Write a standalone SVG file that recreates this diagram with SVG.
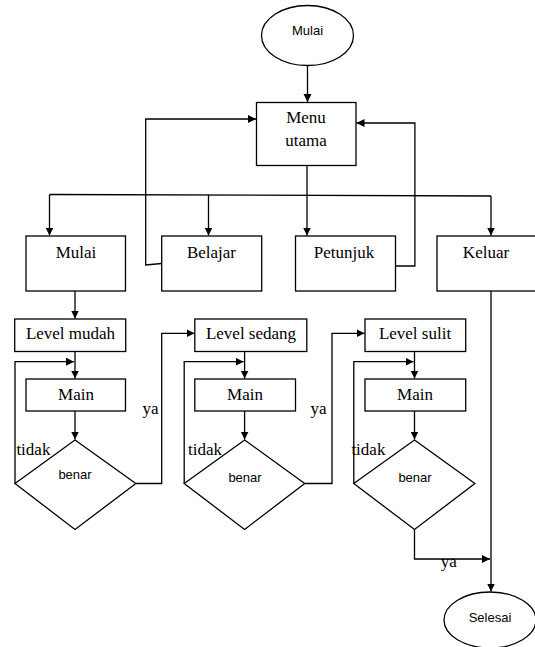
<svg xmlns="http://www.w3.org/2000/svg" width="535" height="647" viewBox="0 0 535 647">
<style>
.n{fill:#fff;stroke:#000;stroke-width:1.3}
.c{fill:none;stroke:#000;stroke-width:1.3}
.s{font-family:"Liberation Serif","Times New Roman",serif;font-size:17px;fill:#000}
.a{font-family:"Liberation Sans",Arial,sans-serif;font-size:13px;fill:#000}
</style>
<defs>
<marker id="ar" markerUnits="userSpaceOnUse" markerWidth="10" markerHeight="10" refX="8" refY="4" orient="auto">
<path d="M0,0 L8,4 L0,8 Z" fill="#000"/>
</marker>
</defs>
<rect width="535" height="647" fill="#fff"/>
<g id="connectors">
<path class="c" d="M307.5,65.5 V102" marker-end="url(#ar)"/>
<path class="c" d="M307,165.5 V235.5" marker-end="url(#ar)"/>
<path class="c" d="M49.5,194.5 L491,196"/>
<path class="c" d="M49.5,194.5 V235.5" marker-end="url(#ar)"/>
<path class="c" d="M208.5,195 V235.5" marker-end="url(#ar)"/>
<path class="c" d="M491,196 V235.5" marker-end="url(#ar)"/>
<path class="c" d="M161.7,263.5 L145.7,265 V119 H256" marker-end="url(#ar)"/>
<path class="c" d="M395.4,266 H414.9 V123 H356.5" marker-end="url(#ar)"/>
<path class="c" d="M75,291 V318.5" marker-end="url(#ar)"/>
<path class="c" d="M75,351.5 V378.5" marker-end="url(#ar)"/>
<path class="c" d="M15,483.5 V361.7 H74" marker-end="url(#ar)"/>
<path class="c" d="M75,411 V439.5" marker-end="url(#ar)"/>
<path class="c" d="M135.8,483.5 H161.7 V333.3 H194.5" marker-end="url(#ar)"/>
<path class="c" d="M244.6,351.5 V378.5" marker-end="url(#ar)"/>
<path class="c" d="M184.2,483.5 V361.7 H243.6" marker-end="url(#ar)"/>
<path class="c" d="M244.6,411 V439.5" marker-end="url(#ar)"/>
<path class="c" d="M304.7,483.5 H332 V333.3 H364.5" marker-end="url(#ar)"/>
<path class="c" d="M414.5,351.5 V378.5" marker-end="url(#ar)"/>
<path class="c" d="M353.8,483.5 V361.7 H413.5" marker-end="url(#ar)"/>
<path class="c" d="M414.5,411 V439.5" marker-end="url(#ar)"/>
<path class="c" d="M414.5,529.5 V559 H490" marker-end="url(#ar)"/>
<path class="c" d="M491,291 V591.5" marker-end="url(#ar)"/>
</g>
<g id="labels">
<text class="s" x="16.4" y="455">tidak</text>
<text class="s" x="188" y="455">tidak</text>
<text class="s" x="351.4" y="455">tidak</text>
<text class="s" x="142.6" y="414">ya</text>
<text class="s" x="310.5" y="414">ya</text>
<text class="s" x="440.7" y="567">ya</text>
</g>
<g id="start"><ellipse class="n" cx="307.5" cy="35.5" rx="46" ry="30"/><text class="a" x="307.5" y="35" text-anchor="middle">Mulai</text></g>
<g id="menu"><rect class="n" x="256.5" y="102.5" width="99.5" height="63"/><text class="s" x="306" y="123" text-anchor="middle">Menu</text><text class="s" x="306" y="145.5" text-anchor="middle">utama</text></g>
<g id="mulai"><rect class="n" x="26" y="236" width="99.5" height="55"/><text class="s" x="76" y="258.3" text-anchor="middle">Mulai</text></g>
<g id="belajar"><rect class="n" x="161.7" y="236" width="100" height="55"/><text class="s" x="211.5" y="258.3" text-anchor="middle">Belajar</text></g>
<g id="petunjuk"><rect class="n" x="295.5" y="236" width="100" height="55"/><text class="s" x="344" y="258.3" text-anchor="middle">Petunjuk</text></g>
<g id="keluar"><rect class="n" x="437" y="236" width="110" height="55"/><text class="s" x="486" y="258.3" text-anchor="middle">Keluar</text></g>
<g id="level-mudah"><rect class="n" x="14.7" y="319" width="111" height="32.5"/><text class="s" x="70.5" y="339" text-anchor="middle">Level mudah</text></g>
<g id="main1"><rect class="n" x="26" y="379" width="99.5" height="32"/><text class="s" x="76" y="400" text-anchor="middle">Main</text></g>
<g id="benar1"><polygon class="n" points="75,440 135.8,483.5 75,529.5 15,483.5"/><text class="a" x="75" y="479" text-anchor="middle">benar</text></g>
<g id="level-sedang"><rect class="n" x="194.8" y="319" width="112" height="32.5"/><text class="s" x="251" y="339" text-anchor="middle">Level sedang</text></g>
<g id="main2"><rect class="n" x="194.8" y="379" width="100.7" height="32"/><text class="s" x="245" y="400" text-anchor="middle">Main</text></g>
<g id="benar2"><polygon class="n" points="244.6,440 304.7,483.5 244.6,529.5 184.2,483.5"/><text class="a" x="245" y="482" text-anchor="middle">benar</text></g>
<g id="level-sulit"><rect class="n" x="365" y="319" width="100.7" height="32.5"/><text class="s" x="415" y="339" text-anchor="middle">Level sulit</text></g>
<g id="main3"><rect class="n" x="365" y="379" width="100.7" height="32"/><text class="s" x="415" y="400" text-anchor="middle">Main</text></g>
<g id="benar3"><polygon class="n" points="414.5,440 474.9,483.5 414.5,529.5 353.8,483.5"/><text class="a" x="415" y="482" text-anchor="middle">benar</text></g>
<g id="selesai"><ellipse class="n" cx="490" cy="620" rx="46" ry="28"/><text class="a" x="490" y="622" text-anchor="middle">Selesai</text></g>
</svg>
